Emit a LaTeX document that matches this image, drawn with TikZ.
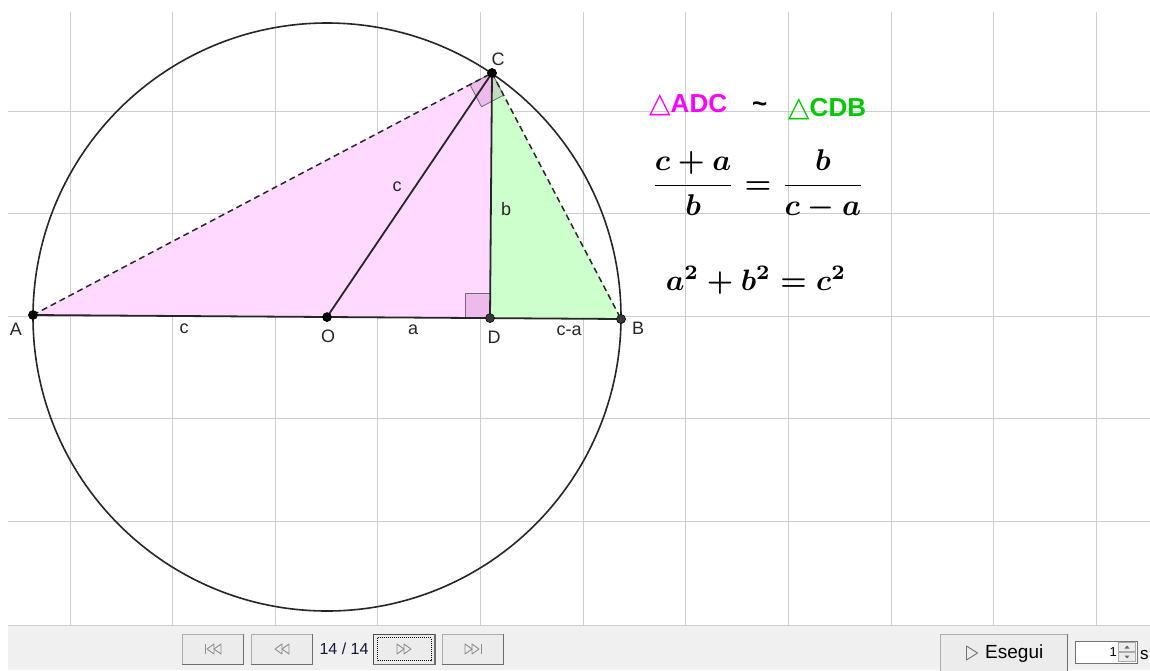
\documentclass[tikz,border=0pt]{standalone}
\usepackage{graphicx}
\usepackage{fontspec}
\newfontfamily\arial{Liberation Sans}
\newfontfamily\dejavu{DejaVu Sans}
\usetikzlibrary{calc}
\definecolor{gridc}{RGB}{205,205,205}
\definecolor{pinkf}{RGB}{255,217,255}
\definecolor{greenf}{RGB}{204,255,204}
\definecolor{angf}{RGB}{153,51,153}
\definecolor{angd}{RGB}{110,110,110}
\definecolor{magt}{RGB}{255,0,255}
\definecolor{grnt}{RGB}{0,200,0}
\definecolor{barf}{RGB}{240,240,240}
\definecolor{btnf}{RGB}{236,236,236}
\definecolor{btnd}{RGB}{172,172,172}
\definecolor{btns}{RGB}{110,110,110}
\definecolor{icon}{RGB}{140,140,140}
\definecolor{ptgray}{RGB}{55,55,55}
\definecolor{pgtext}{RGB}{20,20,60}
\begin{document}
\begin{tikzpicture}[x=1pt,y=-1pt,
  gridline/.style={draw=gridc,line width=1pt},
  seg/.style={draw=black!85,line width=1.8pt},
  dashseg/.style={draw=black!85,line width=1.5pt,dash pattern=on 6pt off 4pt},
  pt/.style={circle,fill=black,draw=black,inner sep=0pt,minimum size=9pt},
  ptg/.style={circle,fill=ptgray,draw=black,inner sep=0pt,minimum size=9pt},
  lbl/.style={font=\arial\fontsize{18}{20}\selectfont,text=black!85,inner sep=0pt},
  angmark/.style={fill=angf,fill opacity=0.18,draw=angd,line width=0.8pt},
  btn/.style={draw=btnd,fill=btnf,rectangle,minimum width=61pt,minimum height=30pt,inner sep=0pt},
  btnshadow/.style={draw=btns,line width=1.2pt},
  ico/.style={draw=icon,line width=0.9pt,line join=round}
]
\useasboundingbox (0,0) rectangle (1150,670);
\clip (0,0) rectangle (1150,670);
\fill[white] (0,0) rectangle (1150,670);
% grid
\foreach \i in {0,...,10} \draw[gridline] ({70+102.65*\i},12) -- ({70+102.65*\i},625);
\foreach \yy in {111,213.6,316.2,418.8,521.4} \draw[gridline] (8,\yy) -- (1150,\yy);
% points (positions)
\node[pt] (A) at (33,315) {};
\node[pt] (O) at (327,317) {};
\node[ptg] (D) at (490,318) {};
\node[ptg] (B) at (621,319) {};
\node[pt] (C) at (492,73) {};
% triangle fills
\fill[pinkf] (A.center) -- (D.center) -- (C.center) -- cycle;
\fill[greenf] (D.center) -- (B.center) -- (C.center) -- cycle;
% right angle markers
\path[angmark] (D.center) -- ++(-25,0) -- ++(0,-25) -- ++(25,0) -- cycle;
\coordinate (c1) at ($(C.center)!25pt!(A.center)$);
\coordinate (c2) at ($(C.center)!25pt!(B.center)$);
\coordinate (c3) at ($(c1)+(c2)-(C.center)$);
\path[angmark] (C.center) -- (c1) -- (c3) -- (c2) -- cycle;
% segments
\draw[dashseg] (A.center) -- (C.center);
\draw[dashseg] (C.center) -- (B.center);
\draw[seg] (A.center) -- (B.center);
\draw[seg] (O.center) -- (C.center);
\draw[seg] (C.center) -- (D.center);
% circle
\draw[black!85,line width=1.6pt] (O.center) circle (294);
% redraw points on top
\node[pt] at (A.center) {};
\node[pt] at (O.center) {};
\node[ptg] at (D.center) {};
\node[ptg] at (B.center) {};
\node[pt] at (C.center) {};
% labels
\node[lbl] (lC) at (498,59) {C};
\node[lbl] (lA) at (16,329) {A};
\node[lbl] (lO) at (328,336) {O};
\node[lbl] (lD) at (494,337) {D};
\node[lbl] (lB) at (638,328) {B};
\node[lbl] (lc1) at (184,329) {c};
\node[lbl] (la) at (413,330) {a};
\node[lbl] (lca) at (569,331) {c-a};
\node[lbl] (lc2) at (397,187) {c};
\node[lbl] (lb) at (506,209) {b};
% similarity text
\node[anchor=base west,inner sep=0pt,text=magt] (s1) at (649,112)
  {{\dejavu\fontsize{28}{30}\selectfont △}{\arial\bfseries\fontsize{26}{28}\selectfont ADC}};
\node[anchor=base west,inner sep=0pt] (s2) at (752,112)
  {\arial\bfseries\fontsize{26}{28}\selectfont \textasciitilde};
\node[anchor=base west,inner sep=0pt,text=grnt] (s3) at (788,116)
  {{\dejavu\fontsize{28}{30}\selectfont △}{\arial\bfseries\fontsize{26}{28}\selectfont CDB}};
% formulas
\node[inner sep=0pt] (f1) at (758,185)
  {\scalebox{3.0}{\boldmath$\displaystyle\frac{c+a}{b}=\frac{b}{c-a}$}};
\node[inner sep=0pt] (f2) at (756,280)
  {\scalebox{2.95}{\boldmath$a^2+b^2=c^2$}};
% toolbar
\fill[barf] (8,625) rectangle (1150,670);
\draw[gridline] (8,625) -- (1150,625);
\node[btn] (b1) at (213,649) {};
\node[btn] (b2) at (282,649) {};
\node[btn,draw=black!70,line width=1pt] (b3) at (404,649) {};
\node[btn] (b4) at (473,649) {};
\foreach \b in {b1,b2,b4} \draw[btnshadow] (\b.north east) -- (\b.south east) -- (\b.south west);
\draw[btnshadow] (b3.north east) -- (b3.south east) -- (b3.south west);
\draw[black,line width=0.6pt,dash pattern=on 1pt off 1pt] ($(b3.north west)+(4,4)$) rectangle ($(b3.south east)+(-4,-4)$);
\begin{scope}[shift={(b1.center)}]
  \draw[ico] (-8,-5) -- (-8,5);
  \draw[ico] (-6,0) -- (1,-5) -- (1,5) -- cycle;
  \draw[ico] (1,0) -- (8,-5) -- (8,5) -- cycle;
\end{scope}
\begin{scope}[shift={(b2.center)}]
  \draw[ico] (-7,0) -- (0,-5) -- (0,5) -- cycle;
  \draw[ico] (0,0) -- (7,-5) -- (7,5) -- cycle;
\end{scope}
\begin{scope}[shift={(b3.center)}]
  \draw[ico] (7,0) -- (0,-5) -- (0,5) -- cycle;
  \draw[ico] (0,0) -- (-7,-5) -- (-7,5) -- cycle;
\end{scope}
\begin{scope}[shift={(b4.center)}]
  \draw[ico] (8,-5) -- (8,5);
  \draw[ico] (6,0) -- (-1,-5) -- (-1,5) -- cycle;
  \draw[ico] (-1,0) -- (-8,-5) -- (-8,5) -- cycle;
\end{scope}
\node[inner sep=0pt,text=pgtext] (pg) at (344,649) {\arial\fontsize{16}{18}\selectfont 14 / 14};
% Esegui button
\node[btn,minimum width=127pt,minimum height=38pt] (run) at (1003.5,653) {};
\draw[btnshadow] (run.north east) -- (run.south east);
\begin{scope}[shift={(run.center)}]
  \draw[ico,draw=black!55] (-37,-7) -- (-26,0) -- (-37,7) -- cycle;
\end{scope}
\node[inner sep=0pt,anchor=west] (runt) at (985,654) {\arial\fontsize{19}{21}\selectfont Esegui};
% spin box
\node[draw=black!55,fill=white,minimum width=62pt,minimum height=22pt,inner sep=0pt] (spin) at (1106,652) {};
\node[inner sep=0pt,anchor=east] (spinv) at (1117,652) {\arial\fontsize{13}{15}\selectfont 1};
\node[draw=btnd,fill=btnf,minimum width=17pt,minimum height=9pt,inner sep=0pt] (up) at (1127,647) {};
\node[draw=btnd,fill=btnf,minimum width=17pt,minimum height=9pt,inner sep=0pt] (dn) at (1127,657) {};
\fill[black!60] ($(up.center)+(-2.5,1.5)$) -- ($(up.center)+(2.5,1.5)$) -- ($(up.center)+(0,-1.5)$) -- cycle;
\fill[black!60] ($(dn.center)+(-2.5,-1.5)$) -- ($(dn.center)+(2.5,-1.5)$) -- ($(dn.center)+(0,1.5)$) -- cycle;
\node[inner sep=0pt,anchor=west] (sec) at (1140,655) {\arial\fontsize{17}{19}\selectfont s};
\end{tikzpicture}
\end{document}
